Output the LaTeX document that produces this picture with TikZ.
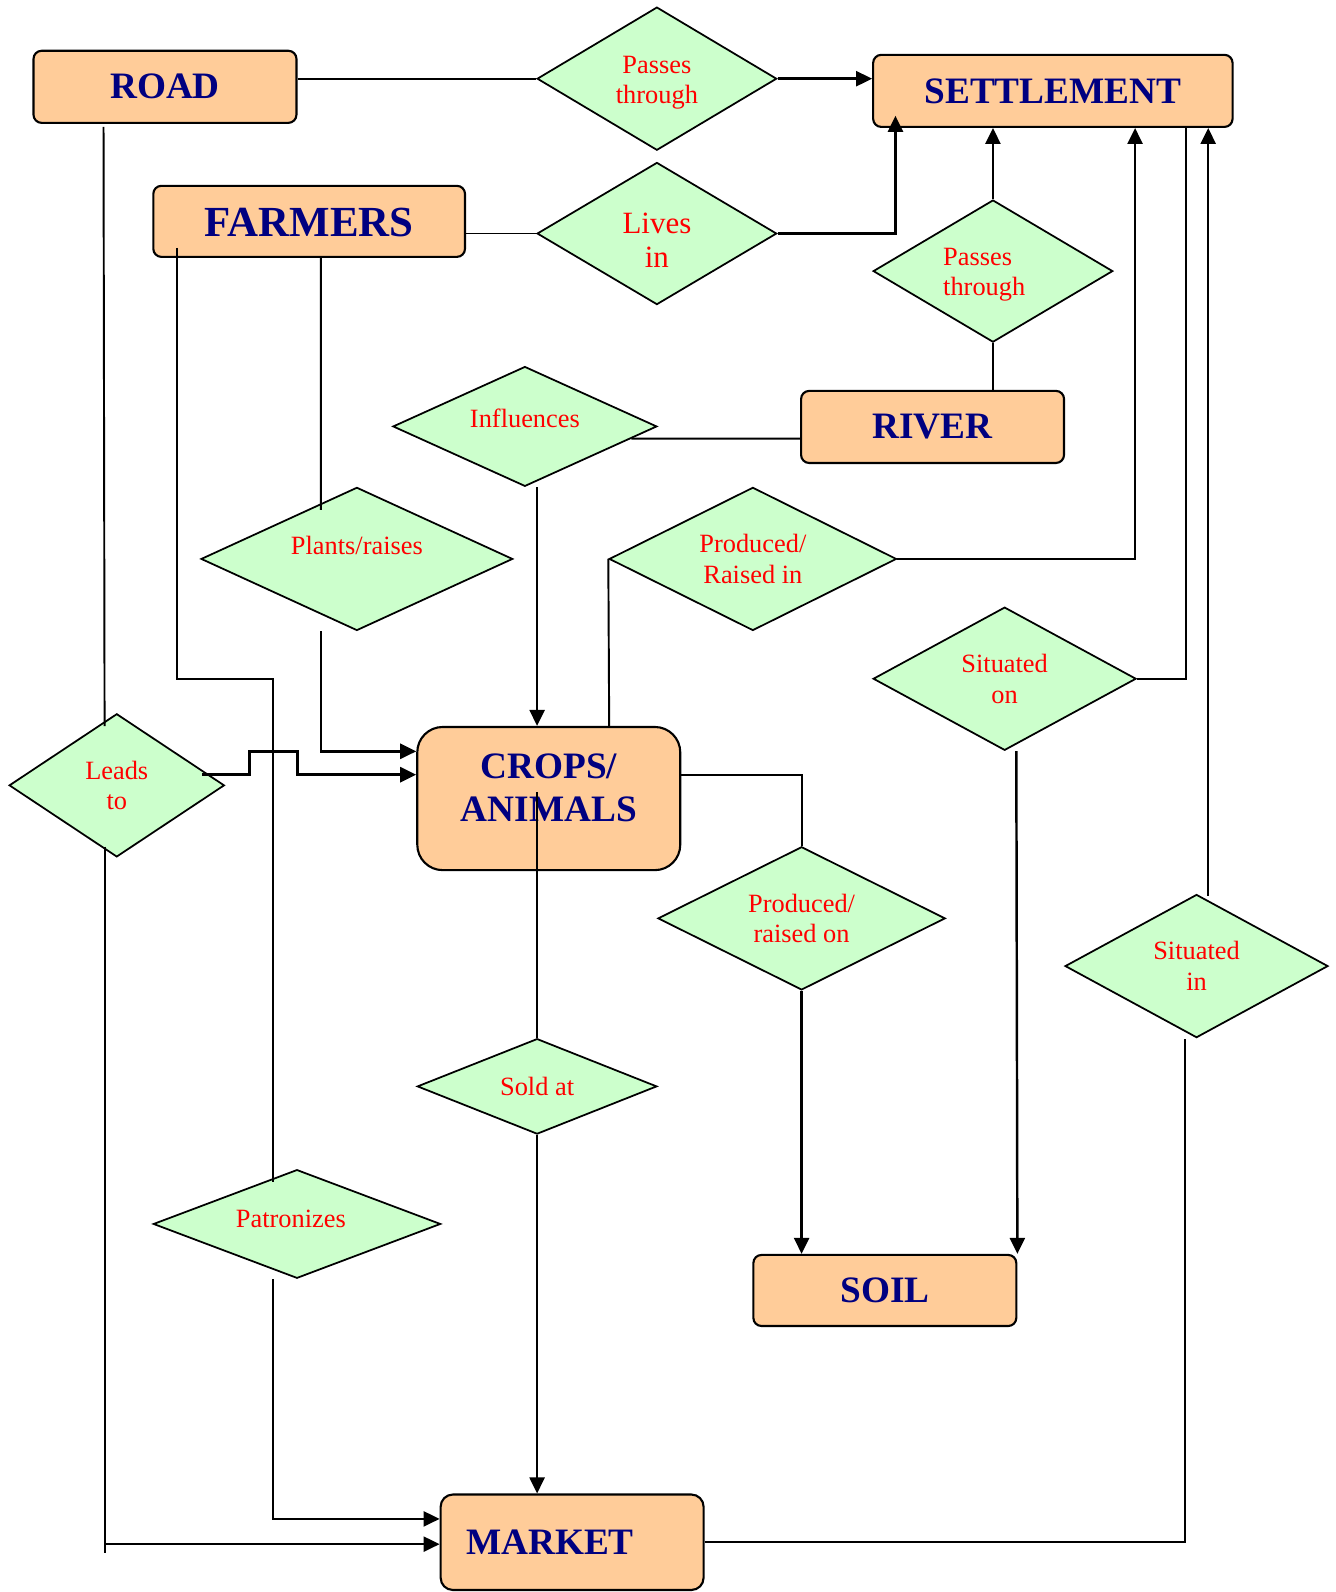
\documentclass[tikz,border=0pt]{standalone}
\usepackage{fontspec}
\setmainfont{Liberation Serif}
\usepackage{xcolor}
\usepackage{tikz}
\usetikzlibrary{arrows.meta,shapes.geometric,calc}
\definecolor{mapnavy}{HTML}{000080}
\definecolor{mapred}{HTML}{FF0000}
\definecolor{mappeach}{HTML}{FFCC99}
\definecolor{mapmint}{HTML}{CCFFCC}
\newlength\pxu
\setlength\pxu{0.010152cm}
% invisible struts to nudge text inside a shape
\newcommand\uppad[1]{\rule{0pt}{#1\pxu}}
\newcommand\downpad[1]{\rule[-#1\pxu]{0pt}{#1\pxu}}

\begin{document}
\begin{tikzpicture}[
  x=\pxu, y=-\pxu,
  box/.style={draw=black, line width=0.6pt, rounded corners=8\pxu, fill=mappeach,
              text=mapnavy, font=\fontsize{10.6}{12.1}\selectfont\bfseries,
              minimum width=259\pxu, minimum height=71\pxu, align=center, inner sep=0pt},
  rel/.style={diamond, aspect=2, draw=black, line width=0.5pt, fill=mapmint,
              text=mapred, font=\fontsize{7.5}{8.7}\selectfont, inner sep=0pt,
              minimum width=236\pxu, minimum height=141\pxu, align=center},
  link/.style={line width=0.55pt, draw=black},
  arr/.style={link, line width=0.7pt, -{Triangle[length=1.6mm, width=1.5mm]}}
]
\useasboundingbox (0,0) rectangle (1315,1568);
% concepts
\node[box] (road) at (162.5,85.5) {ROAD};
\node[box, minimum width=354\pxu] (settle) at (1037,89.5) {SETTLEMENT};
\node[box, minimum width=307\pxu, minimum height=70\pxu,
      font=\fontsize{12.2}{14}\selectfont\bfseries] (farmers) at (304.5,218) {\uppad{30}FARMERS};
\node[box] (river) at (918.5,420.5) {RIVER};
\node[box, minimum height=141\pxu, rounded corners=25\pxu] (crops) at (540.5,786.5)
  {CROPS/\\ANIMALS\downpad{22}};
\node[box, minimum height=70\pxu] (soil) at (871.5,1271) {SOIL};
\node[box, minimum height=94\pxu, rounded corners=12\pxu, text width=209\pxu,
      align=left] (market) at (563.5,1519) {MARKET};
% relations
\node[rel] (pass1) at (647,77.5) {\uppad{25}Passes\\through};
\node[rel, minimum height=140\pxu, font=\fontsize{8.8}{9.6}\selectfont] (lives) at (647,230) {\uppad{33}Lives\\in};
\node[rel, minimum height=140\pxu, text width=98\pxu, align=left] (pass2) at (978,267) {\uppad{24}Passes\\through};
\node[rel, minimum width=260\pxu, minimum height=118\pxu, text depth=17\pxu] (influ) at (517,420) {Influences};
\node[rel, minimum width=307\pxu, text depth=27\pxu] (plants) at (351.5,550.5) {Plants/raises};
\node[rel, minimum width=283\pxu] (prodin) at (741.5,550.5) {Produced/\\Raised in};
\node[rel, minimum width=259\pxu] (sitOn) at (989.5,668.5) {Situated\\on};
\node[rel, minimum width=212\pxu] (leads) at (115,773.5) {Leads\\to};
\node[rel, minimum width=283\pxu] (prodon) at (789.5,904.5) {Produced/\\raised on};
\node[rel, minimum width=259\pxu] (sitIn) at (1178.5,951.5) {Situated\\in};
\node[rel, minimum height=94\pxu] (sold) at (529,1070) {Sold at};
\node[rel, minimum width=283\pxu, minimum height=107\pxu, text depth=11\pxu] (patron) at (292.5,1205.5) {Patronizes\hspace{12\pxu}};
% helper points
\coordinate (influOut) at ($(influ.south)+(12,0)$);
\coordinate (leadsFoot) at ($(leads.south)+(-12,676)$);
\coordinate (sitInTop) at ($(sitIn.north)+(11.5,2)$);
% links into settlement
\draw[link] (pass1.west -| road.east) -- (pass1.west);
\draw[arr] (pass1.east) -- (pass1.east -| settle.west);
\draw[link] (lives.west -| farmers.east) -- (lives.west);
\draw[arr] (lives.east) -| ($(settle.south west)+(23,-12)$);
\draw[arr] (pass2.north) -- (pass2.north |- settle.south);
\draw[link] (pass2.south |- river.north) -- (pass2.south);
\draw[arr] (prodin.east) -| ($(settle.south west)+(259,0)$);
\draw[link] ($(settle.south east)+(-47,0)$) |- (sitOn.east);
\draw[arr] (sitInTop) -- (sitInTop |- settle.south);
% links into crops/animals
\draw[link] ($(river.west)+(0,11.5)$) -- ($(influ.east)+(-26,12)$);
\draw[arr] (influOut) -- (influOut |- crops.north);
\draw[link] ($(farmers.south)+(11.5,0)$) -- ($(plants.north)+(-35.5,23)$);
\draw[arr] ($(plants.south)+(-35.5,0)$) |- ($(crops.west)+(0,-46.5)$);
\draw[link] ($(road.south west)+(70,3)$) -- ($(leads.north)+(-12,13)$);
\draw[arr] ($(leads.east)+(-23,-10.5)$) -- ++(47,0) -- ++(0,-23) -- ++(47,0) -- ++(0,23)
  -- ($(crops.west)+(0,-23.5)$);
\draw[link] ($(crops.north)+(59.5,0)$) -- (prodin.west);
% links into soil
\draw[link] ($(crops.east)+(0,-23.5)$) -| (prodon.north);
\draw[arr] (prodon.south) -- (prodon.south |- soil.north);
\draw[arr] ($(sitOn.south)+(11.5,0)$) -- (soil.north east);
% links into market
\draw[link] ($(crops.center)+(-11.5,-6)$) -- (sold.north);
\draw[arr] (sold.south) -- (sold.south |- market.north);
\draw[link] ($(farmers.south west)+(24,-10)$) -- ++(0,425) -| ($(patron.north)+(-23.5,13)$);
\draw[arr] ($(patron.south)+(-23.5,0)$) |- ($(market.west)+(0,-23)$);
\draw[link] ($(leads.south)+(-12,-11)$) -- ++(0,696);
\draw[arr] (leadsFoot) -- (leadsFoot -| market.west);
\draw[link] (market.east) -| ($(sitIn.south)+(-11.5,0)$);
\end{tikzpicture}
\end{document}
